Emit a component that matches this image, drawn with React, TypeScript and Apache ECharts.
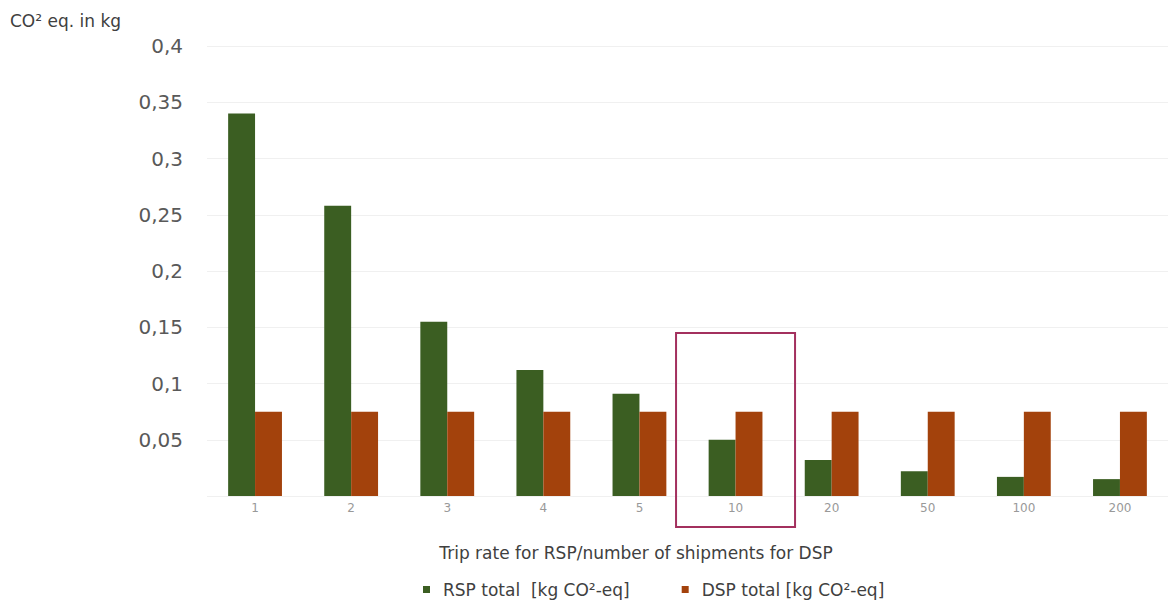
import React, { useEffect, useRef } from "react";
import * as echarts from "echarts";

const categories = ["1", "2", "3", "4", "5", "10", "20", "50", "100", "200"];
const rspTotal = [0.34, 0.258, 0.155, 0.112, 0.091, 0.05, 0.032, 0.022, 0.017, 0.015];
const dspTotal = [0.075, 0.075, 0.075, 0.075, 0.075, 0.075, 0.075, 0.075, 0.075, 0.075];
const yTicks = [0, 0.05, 0.1, 0.15, 0.2, 0.25, 0.3, 0.35, 0.4];
const seriesNames = ["RSP total  [kg CO²-eq]", "DSP total [kg CO²-eq]"];
const yAxisTitle = "CO² eq. in kg";
const xAxisTitle = "Trip rate for RSP/number of shipments for DSP";
const highlightCategory = "10";
const highlightTop = 0.145;

export default function App() {
  const ref = useRef<HTMLDivElement>(null);
  useEffect(() => {
    document.body.style.margin = "0";
    if (!ref.current) return;
    const chart = echarts.init(ref.current, null, { renderer: "svg" });
    const font = "DejaVu Sans, Liberation Sans, sans-serif";
    const titles = [
      {
        type: "text",
        left: 10,
        top: 12,
        style: { text: yAxisTitle, fontSize: 17, fill: "#404040", fontFamily: font },
      },
      {
        type: "text",
        x: 636,
        y: 553,
        style: {
          text: xAxisTitle,
          fontSize: 17,
          fill: "#404040",
          fontFamily: font,
          align: "center",
          verticalAlign: "middle",
        },
      },
    ];
    chart.setOption({
      animation: false,
      backgroundColor: "#ffffff",
      textStyle: { fontFamily: font },
      grid: { left: 207, right: 0, top: 46, bottom: 112, containLabel: false },
      graphic: titles,
      legend: {
        bottom: 5,
        left: 418,
        itemWidth: 7,
        itemHeight: 7,
        itemGap: 52,
        icon: "rect",
        textStyle: { fontSize: 17, color: "#404040", fontFamily: font, padding: [0, 0, 0, 8] },
        data: seriesNames,
      },
      xAxis: {
        type: "category",
        data: categories,
        axisLine: { show: false },
        axisTick: { show: false },
        axisLabel: { fontSize: 12, color: "#999999", margin: 6 },
      },
      yAxis: {
        type: "value",
        min: yTicks[0],
        max: yTicks[yTicks.length - 1],
        interval: 0.05,
        axisLine: { show: false },
        axisTick: { show: false },
        axisLabel: {
          fontSize: 20,
          color: "#595959",
          margin: 24,
          formatter: (v: number) => (v === 0 ? "" : String(Number(v.toFixed(2))).replace(".", ",")),
        },
        splitLine: { lineStyle: { color: "#f0f0f0", width: 1 } },
      },
      series: [
        {
          name: seriesNames[0],
          type: "bar",
          data: rspTotal,
          barGap: "0%",
          barCategoryGap: "44%",
          itemStyle: { color: "#3b5e22" },
        },
        {
          name: seriesNames[1],
          type: "bar",
          data: dspTotal,
          itemStyle: { color: "#a3420c" },
        },
      ],
    });
    const top = chart.convertToPixel({ gridIndex: 0 }, [highlightCategory, highlightTop]);
    const base = chart.convertToPixel({ gridIndex: 0 }, [highlightCategory, 0]);
    if (top && base) {
      const w = 119;
      chart.setOption({
        graphic: [
          ...titles,
          {
            type: "rect",
            shape: { x: top[0] - w / 2, y: top[1], width: w, height: base[1] - top[1] + 31 },
            style: { fill: "none", stroke: "#a3305e", lineWidth: 2 },
            z: 100,
          },
        ],
      });
    }
    return () => chart.dispose();
  }, []);
  return <div ref={ref} style={{ width: 1168, height: 608 }} />;
}
